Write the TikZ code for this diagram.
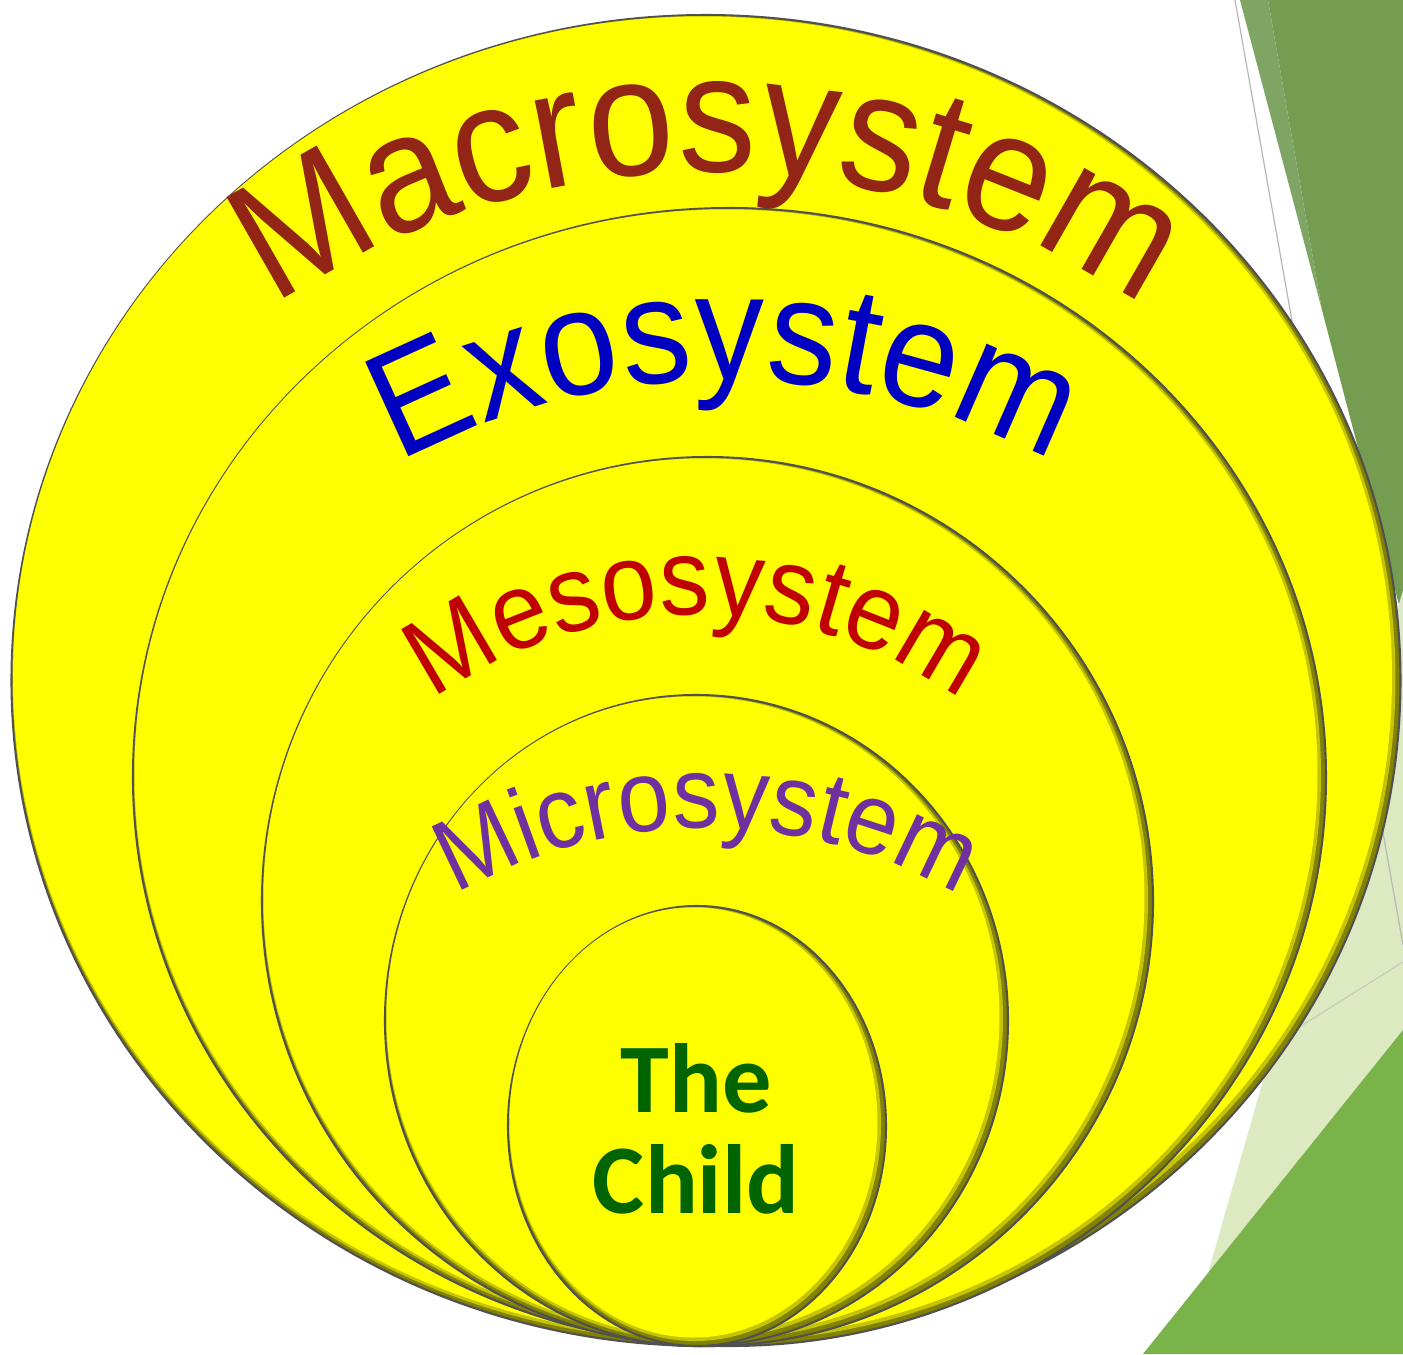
\documentclass[tikz,border=0pt]{standalone}
\usepackage{fontspec}
\setmainfont{Liberation Sans}
\newfontfamily\archfont[FakeStretch=0.92]{Liberation Sans}
\newfontfamily\childfont{Carlito}
\usepackage{tikz}
\usetikzlibrary{shapes.geometric,decorations.text}
\definecolor{MacroRed}{RGB}{146,37,21}
\definecolor{ExoBlue}{RGB}{0,0,192}
\definecolor{MesoRed}{RGB}{192,0,0}
\definecolor{MicroPurple}{RGB}{112,48,160}
\definecolor{ChildGreen}{RGB}{0,100,0}
\definecolor{RingYellow}{RGB}{255,255,0}
\definecolor{RingMid}{RGB}{196,196,0}
\definecolor{RingOlive}{RGB}{130,130,0}
\definecolor{RingEdge}{RGB}{80,80,80}
\definecolor{FacetDark}{RGB}{116,157,82}
\definecolor{FacetLight}{RGB}{126,165,100}
\definecolor{FacetPale}{RGB}{221,233,192}
\definecolor{FacetGrass}{RGB}{123,179,75}
\definecolor{FacetLine}{RGB}{185,185,185}
\newcommand\macroface{\archfont\fontsize{48pt}{48pt}\selectfont}
\newcommand\exoface{\archfont\fontsize{43pt}{43pt}\selectfont}
\newcommand\mesoface{\archfont\fontsize{31pt}{31pt}\selectfont}
\newcommand\microface{\archfont\fontsize{29pt}{29pt}\selectfont}
\tikzset{
    shell/.style={ellipse, draw=RingEdge, line width=0.6pt, fill=RingOlive, inner sep=0pt, outer sep=0pt},
    archword/.style 2 args={decorate, decoration={text along path, text align=center, text color=#1, text={#2}}},
    childword/.style={font=\childfont\bfseries\fontsize{28pt}{28pt}\selectfont, text=ChildGreen, inner sep=0pt, anchor=base},
}
\begin{document}
\begin{tikzpicture}[x=0.1mm, y=0.1mm]
\useasboundingbox (0,-1354) rectangle (1403,0);
\fill[white] (0,-1354) rectangle (1403,0);

% facets on the right
\fill[FacetDark] (1268,0) -- (1403,0) -- (1403,-620) -- (1322,-310) -- cycle;
\fill[FacetLight] (1240,0) -- (1268,0) -- (1322,-310) -- cycle;
\fill[FacetPale] (1403,-590) -- (1403,-1354) -- (1185,-1354) -- cycle;
\fill[FacetGrass] (1403,-1030) -- (1403,-1354) -- (1143,-1354) -- cycle;
\draw[FacetLine, line width=0.35pt] (1235,0) -- (1403,-945);
\draw[FacetLine!60!FacetPale, line width=0.35pt] (1403,-962) -- (1250,-1058);

% nested systems
\foreach \nm/\cx/\cy/\rx/\ry in {macroring/706/680.5/694.5/665.5, exoring/729.5/777/596.5/569, mesoring/707.5/901.5/445.5/444.5, microring/696.5/1020.5/311.5/325.5, childring/697/1126/189/220} {
    \node[shell, minimum width=0.2mm*\rx, minimum height=0.2mm*\ry] (\nm) at (\cx,-\cy) {};
    \fill[RingMid] ([shift={(-2,2)}]\nm.center) ellipse [x radius=\rx-3, y radius=\ry-3];
    \fill[RingYellow] ([shift={(-3.5,3.5)}]\nm.center) ellipse [x radius=\rx-5, y radius=\ry-5];
}

% arched labels
\path[archword={MacroRed}{|\macroface|Macrosystem}] (708.5,-936) ++(140:764) arc [start angle=140, end angle=40, radius=764];
\path[archword={ExoBlue}{|\exoface|Exosystem}] (725.5,-1065) ++(135:685) arc [start angle=135, end angle=45, radius=685];
\path[archword={MesoRed}{|\mesoface|Mesosystem}] (697,-1066) ++(145:451) arc [start angle=145, end angle=35, radius=451];
\path[archword={MicroPurple}{|\microface|Microsystem}] (707,-1331) ++(135:503) arc [start angle=135, end angle=45, radius=503];

\node[childword] (childtop) at (696,-1112) {The};
\node[childword] (childbottom) at (696,-1213) {Child};
\end{tikzpicture}
\end{document}
